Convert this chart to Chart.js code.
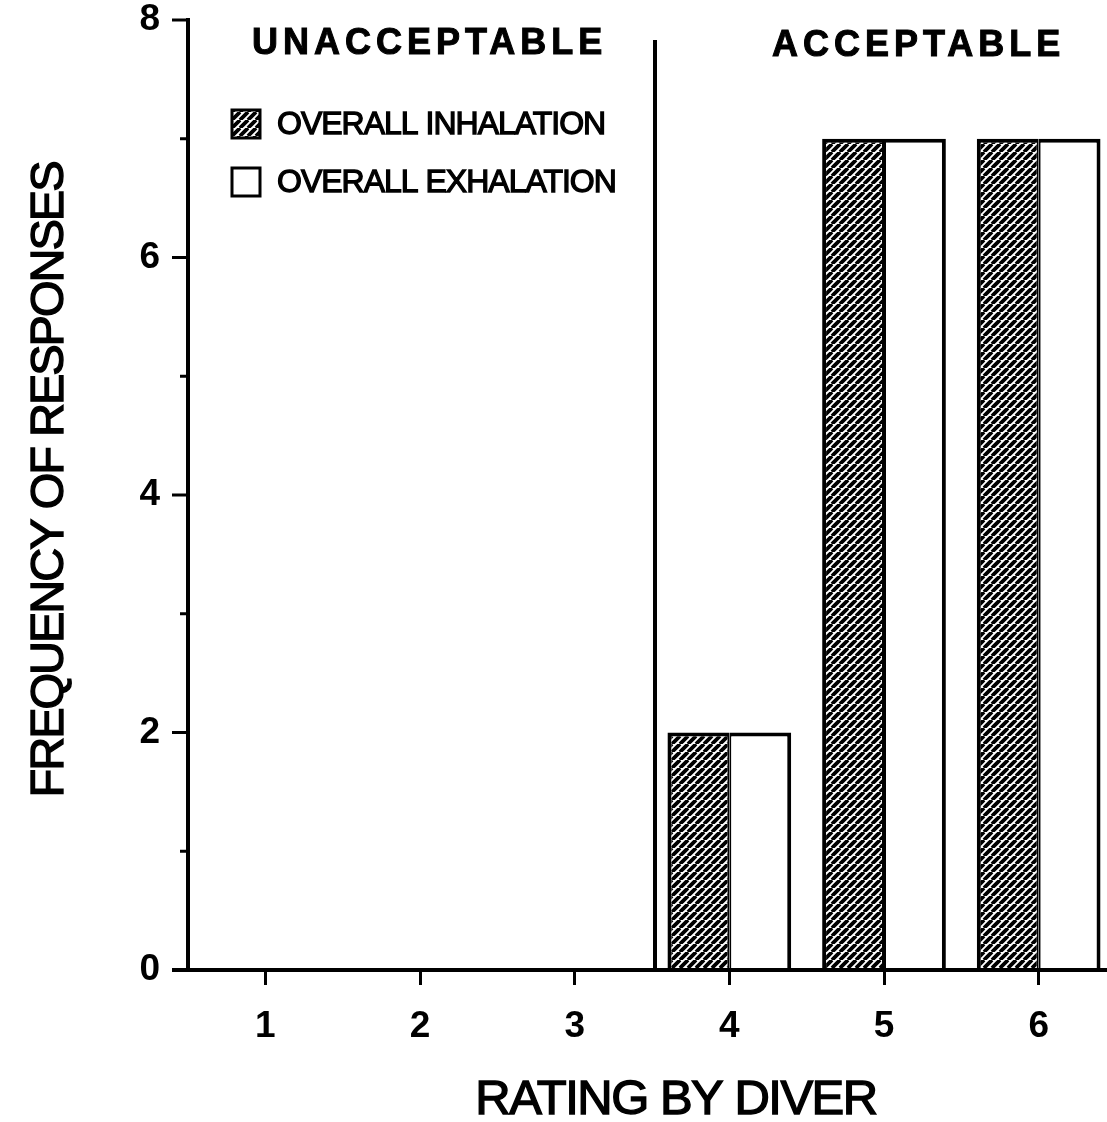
<!DOCTYPE html>
<html lang="en">
<head>
    <meta charset="UTF-8">
    <title>Rating by Diver</title>
    <style>
        body { margin: 0; background: #fff; overflow: hidden; }
        canvas { display: block; }
    </style>
</head>
<body>
    <canvas id="ratingChart" width="1120" height="1122"></canvas>
    <script src="https://cdn.jsdelivr.net/npm/chart.js"></script>
    <script>
        // values
        const ratings = ['1', '2', '3', '4', '5', '6'];
        const inhalation = [0, 0, 0, 2, 7, 7];
        const exhalation = [0, 0, 0, 2, 7, 7];
        const majorTicks = [0, 2, 4, 6, 8];
        const seriesNames = ['OVERALL INHALATION', 'OVERALL EXHALATION'];
        const sections = ['UNACCEPTABLE', 'ACCEPTABLE'];

        const FONT = "'Liberation Sans', Arial, sans-serif";

        // diagonal hatch for the inhalation bars
        function makeHatch() {
            const s = 8;
            const c = document.createElement('canvas');
            c.width = s; c.height = s;
            const g = c.getContext('2d');
            g.fillStyle = '#fff';
            g.fillRect(0, 0, s, s);
            g.strokeStyle = '#000';
            g.lineWidth = 3.8;
            g.beginPath();
            for (let k = -1; k <= 1; k++) {
                g.moveTo(k * s, s);
                g.lineTo(k * s + s, 0);
            }
            g.stroke();
            return g.createPattern(c, 'repeat');
        }
        const hatch = makeHatch();

        // heavy text, like the scanned print
        function heavyText(ctx, text, x, y, w) {
            ctx.lineWidth = w;
            ctx.strokeText(text, x, y);
            ctx.fillText(text, x, y);
        }

        const extras = {
            id: 'extras',
            afterDraw(chart) {
                const ctx = chart.ctx;
                const x = chart.scales.x, y = chart.scales.y;
                const area = chart.chartArea;
                ctx.save();
                ctx.strokeStyle = '#000';
                ctx.fillStyle = '#000';

                // x axis line, reaching a little past the y axis
                ctx.lineWidth = 4;
                ctx.beginPath();
                ctx.moveTo(area.left - 16, area.bottom);
                ctx.lineTo(area.right, area.bottom);
                ctx.stroke();

                // y ticks: long at labelled values, short between
                ctx.lineWidth = 3;
                for (let v = y.min; v <= y.max; v++) {
                    const py = y.getPixelForValue(v);
                    const len = majorTicks.includes(v) ? 16 : 8;
                    ctx.beginPath();
                    ctx.moveTo(area.left - len, py);
                    ctx.lineTo(area.left, py);
                    ctx.stroke();
                }

                // divider between rating 3 and rating 4
                const divX = (x.getPixelForValue(2) + x.getPixelForValue(3)) / 2 + 3;
                ctx.lineWidth = 4;
                ctx.beginPath();
                ctx.moveTo(divX, area.top + 20);
                ctx.lineTo(divX, area.bottom);
                ctx.stroke();

                // section headings
                ctx.font = 'bold 36px ' + FONT;
                ctx.letterSpacing = '5px';
                ctx.textBaseline = 'middle';
                ctx.textAlign = 'left';
                heavyText(ctx, sections[0], 252, 44, 1);
                heavyText(ctx, sections[1], 772, 46, 1);

                // legend
                ctx.letterSpacing = '-1px';
                ctx.font = '32px ' + FONT;
                const boxes = [{ y: 110, fill: hatch }, { y: 168, fill: '#fff' }];
                boxes.forEach((b, i) => {
                    ctx.fillStyle = b.fill;
                    ctx.fillRect(232, b.y, 28, 28);
                    ctx.lineWidth = 3;
                    ctx.strokeRect(232, b.y, 28, 28);
                    ctx.fillStyle = '#000';
                    heavyText(ctx, seriesNames[i], 277, b.y + 15, 1.3);
                });

                // axis titles
                ctx.font = '49px ' + FONT;
                ctx.letterSpacing = '-1.5px';
                ctx.textAlign = 'center';
                heavyText(ctx, 'RATING BY DIVER', 676, 1100, 1.4);
                ctx.translate(50, 480);
                ctx.rotate(-Math.PI / 2);
                ctx.font = '47px ' + FONT;
                ctx.letterSpacing = '-2px';
                heavyText(ctx, 'FREQUENCY OF RESPONSES', 0, 0, 1.4);
                ctx.restore();
            }
        };

        const ctx = document.getElementById('ratingChart').getContext('2d');
        new Chart(ctx, {
            type: 'bar',
            data: {
                labels: ratings,
                datasets: [{
                    label: seriesNames[0],
                    data: inhalation,
                    backgroundColor: hatch,
                    borderColor: '#000',
                    borderWidth: { top: 4, left: 4, right: 2, bottom: 0 }
                }, {
                    label: seriesNames[1],
                    data: exhalation,
                    backgroundColor: '#fff',
                    borderColor: '#000',
                    borderWidth: { top: 4, left: 2, right: 4, bottom: 0 }
                }]
            },
            options: {
                responsive: false,
                animation: false,
                layout: { padding: { top: 20, right: 4, left: 0, bottom: 0 } },
                datasets: { bar: { categoryPercentage: 0.8, barPercentage: 1 } },
                plugins: { legend: { display: false }, tooltip: { enabled: false } },
                scales: {
                    x: {
                        afterFit(scale) {
                            scale.height = 152;
                            scale.paddingLeft = 0;
                            scale.paddingRight = 0;
                        },
                        grid: {
                            drawOnChartArea: false,
                            offset: false,
                            tickLength: 15,
                            color: '#000',
                            lineWidth: 3
                        },
                        border: { display: true, color: '#000', width: 4 },
                        ticks: {
                            color: '#000',
                            padding: 20,
                            font: { family: FONT, size: 37, weight: 'bold' }
                        }
                    },
                    y: {
                        min: 0,
                        max: 8,
                        afterFit(scale) {
                            scale.width = 188;
                            scale.paddingTop = 0;
                            scale.paddingBottom = 0;
                        },
                        grid: { drawOnChartArea: false, drawTicks: false },
                        border: { display: true, color: '#000', width: 4 },
                        ticks: {
                            stepSize: 1,
                            padding: 28,
                            color: '#000',
                            font: { family: FONT, size: 37, weight: 'bold' },
                            callback: (v) => majorTicks.includes(v) ? v : ''
                        }
                    }
                }
            },
            plugins: [extras]
        });
    </script>
</body>
</html>
